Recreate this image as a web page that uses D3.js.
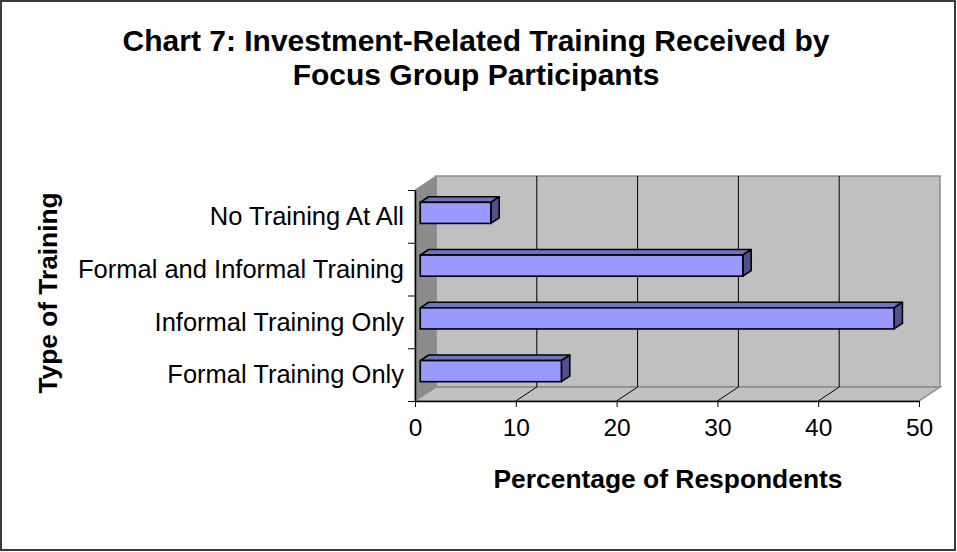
<!DOCTYPE html>
<html>
<head>
<meta charset="utf-8">
<script src="https://cdn.jsdelivr.net/npm/d3@7"></script>
<style>
  body { margin: 0; background: #fff; }
  text { font-family: Arial, "Liberation Sans", sans-serif; fill: #000; }
</style>
</head>
<body>
<div id="chart"></div>
<script>
// data (bottom to top)
var categories = ["Formal Training Only", "Informal Training Only", "Formal and Informal Training", "No Training At All"];
var values = [14, 47, 32, 7];
var xTicks = [0, 10, 20, 30, 40, 50];
var titleLines = ["Chart 7: Investment-Related Training Received by", "Focus Group Participants"];

var w = 957, h = 552;
var svg = d3.select("#chart").append("svg")
  .attr("width", w)
  .attr("height", h)

// outer frame
svg.append("rect")
  .attr("x", 1).attr("y", 1)
  .attr("width", w - 3).attr("height", h - 3)
  .attr("fill", "#fff")
  .attr("stroke", "#3a3a3a")
  .attr("stroke-width", 2)

// front plane of the 3d box
var p = {"left": 415, "right": 919, "top": 190, "bot": 401};
var depth = {"dx": 21, "dy": -14};

var x = d3.scaleLinear().domain([0, 50]).range([p.left, p.right]);
var y = d3.scaleBand().domain(categories).range([p.bot, p.top])
  .paddingInner(0.6).paddingOuter(0.3);
var yEdge = d3.scaleLinear().domain([0, categories.length]).range([p.bot, p.top]);

// back wall
svg.append("polygon")
  .attr("points", [[p.left + depth.dx, p.top + depth.dy], [p.right + depth.dx, p.top + depth.dy],
                   [p.right + depth.dx, p.bot + depth.dy], [p.left + depth.dx, p.bot + depth.dy]].join(" "))
  .attr("fill", "#c0c0c0")
  .attr("stroke", "#8a8a8a")
  .attr("stroke-width", 1.5)

// left wall
svg.append("polygon")
  .attr("points", [[p.left, p.top], [p.left + depth.dx, p.top + depth.dy],
                   [p.left + depth.dx, p.bot + depth.dy], [p.left, p.bot]].join(" "))
  .attr("fill", "#8c8c8c")
  .attr("stroke", "#8a8a8a")

// floor
svg.append("polygon")
  .attr("points", [[p.left, p.bot], [p.left + depth.dx, p.bot + depth.dy],
                   [p.right + depth.dx, p.bot + depth.dy], [p.right, p.bot]].join(" "))
  .attr("fill", "#c0c0c0")
  .attr("stroke", "#8a8a8a")
  .attr("stroke-width", 1.5)

// gridlines on wall + floor
var inner = xTicks.filter(function(t){ return t > 0 && t < 50 });
svg.selectAll(".grid")
  .data(inner)
  .enter()
    .append("line")
      .attr("x1", function(d){ return x(d) + depth.dx })
      .attr("x2", function(d){ return x(d) + depth.dx })
      .attr("y1", p.top + depth.dy)
      .attr("y2", p.bot + depth.dy)
      .attr("stroke", "#000")
      .attr("stroke-width", 1)
svg.selectAll(".floorgrid")
  .data(inner)
  .enter()
    .append("line")
      .attr("x1", function(d){ return x(d) })
      .attr("x2", function(d){ return x(d) + depth.dx })
      .attr("y1", p.bot)
      .attr("y2", p.bot + depth.dy)
      .attr("stroke", "#000")
      .attr("stroke-width", 1)

// bars
var f0 = 0.25, f1 = 0.65;
var ox = depth.dx * f0, oy = depth.dy * f0;
var bx = depth.dx * (f1 - f0), by = depth.dy * (f1 - f0);

var bars = svg.selectAll(".bar")
  .data(categories.map(function(c, i){ return {"key": c, "value": values[i]} }))
  .enter()
    .append("g")
      .attr("class", "bar")

bars.append("polygon") // top face
  .attr("points", function(d){
    var x0 = x(0) + ox, x1 = x(d.value) + ox, yt = y(d.key) + oy;
    return [[x0, yt], [x0 + bx, yt + by], [x1 + bx, yt + by], [x1, yt]].join(" ")
  })
  .attr("fill", "#7272c4")
  .attr("stroke", "#000")
  .attr("stroke-width", 1.6)
  .attr("stroke-linejoin", "round")

bars.append("polygon") // end face
  .attr("points", function(d){
    var x1 = x(d.value) + ox, yt = y(d.key) + oy, yb = yt + y.bandwidth();
    return [[x1, yt], [x1 + bx, yt + by], [x1 + bx, yb + by], [x1, yb]].join(" ")
  })
  .attr("fill", "#50508c")
  .attr("stroke", "#000")
  .attr("stroke-width", 1.6)
  .attr("stroke-linejoin", "round")

bars.append("rect") // front face
  .attr("x", x(0) + ox)
  .attr("y", function(d){ return y(d.key) + oy })
  .attr("width", function(d){ return x(d.value) - x(0) })
  .attr("height", y.bandwidth())
  .attr("fill", "#9999ff")
  .attr("stroke", "#000")
  .attr("stroke-width", 1.6)

// x axis
var xAxis = d3.axisBottom(x).tickValues(xTicks).tickSizeInner(6).tickSizeOuter(0).tickPadding(12);
var gx = svg.append("g")
  .attr("transform", "translate(0," + p.bot + ")")
  .call(xAxis)
gx.select(".domain").attr("stroke", "#000").attr("stroke-width", 1.5)
gx.selectAll("line").attr("stroke", "#000")
gx.selectAll("text")
  .style("font-size", "24.5px")
  .style("font-family", "Arial, 'Liberation Sans', sans-serif")
  .attr("fill", "#000")

// y axis: ticks at category edges, labels at band centers
var yAxis = d3.axisLeft(yEdge).ticks(categories.length).tickSizeInner(7).tickSizeOuter(0).tickFormat("");
var gy = svg.append("g")
  .attr("transform", "translate(" + p.left + ",0)")
  .call(yAxis)
gy.select(".domain").attr("stroke", "#000").attr("stroke-width", 1.5)
gy.selectAll("line").attr("stroke", "#000")

svg.selectAll(".catlabel")
  .data(categories)
  .enter()
    .append("text")
      .attr("x", 404)
      .attr("y", function(d){ return y(d) + y.bandwidth() / 2 })
      .attr("dy", "0.34em")
      .style("text-anchor", "end")
      .style("font-size", "25.5px")
      .text(function(d){ return d })

// titles
svg.selectAll(".title")
  .data(titleLines)
  .enter()
    .append("text")
      .attr("x", 476)
      .attr("y", function(d, i){ return 51 + i * 34 })
      .style("text-anchor", "middle")
      .style("font-size", "30px")
      .style("font-weight", "bold")
      .text(function(d){ return d })

svg.append("text")
  .attr("x", 668)
  .attr("y", 488)
  .style("text-anchor", "middle")
  .style("font-size", "26.4px")
  .style("font-weight", "bold")
  .text("Percentage of Respondents")

svg.append("text")
  .attr("transform", "translate(57,293) rotate(-90)")
  .style("text-anchor", "middle")
  .style("font-size", "26.3px")
  .style("font-weight", "bold")
  .text("Type of Training")
</script>
</body>
</html>
